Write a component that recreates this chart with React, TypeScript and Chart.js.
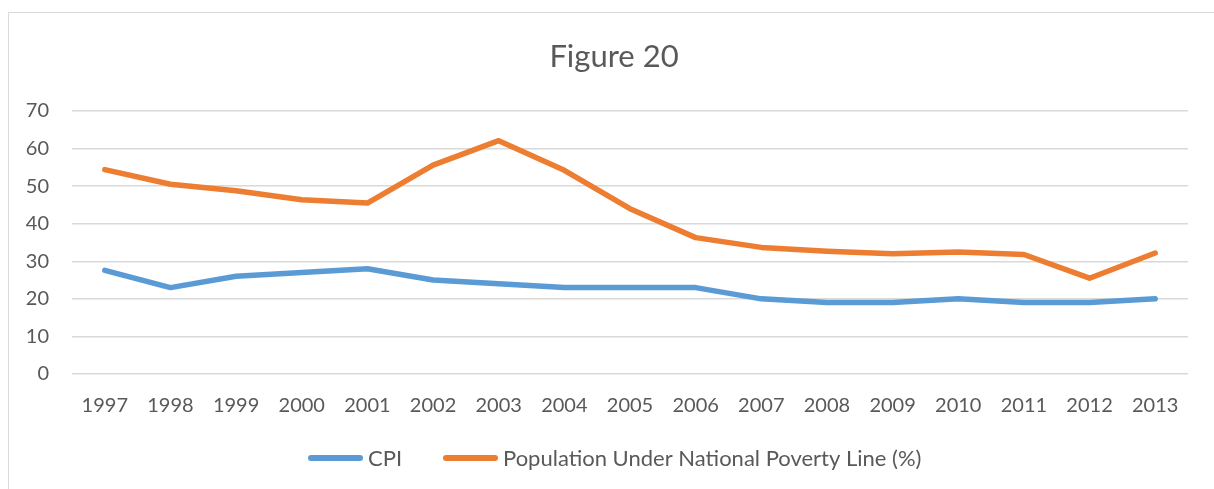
import { useEffect, useRef } from "react";
import { Chart, registerables } from "chart.js";

Chart.register(...registerables);

const years = [
  "1997", "1998", "1999", "2000", "2001", "2002", "2003", "2004", "2005",
  "2006", "2007", "2008", "2009", "2010", "2011", "2012", "2013",
];
const cpi = [27.6, 23, 26, 27, 28, 25, 24, 23, 23, 23, 20, 19, 19, 20, 19, 19, 20];
const poverty = [
  54.4, 50.5, 48.8, 46.4, 45.5, 55.6, 62.1, 54.2, 44.0, 36.3, 33.7, 32.7,
  32.0, 32.5, 31.8, 25.5, 32.2,
];
const yMin = 0;
const yMax = 70;
const yStep = 10;

const titleText = "Figure 20";
const cpiLabel = "CPI";
const povertyLabel = "Population Under National Poverty Line (%)";

const BLUE = "#5B9BD5";
const ORANGE = "#ED7D31";
const TEXT = "#595959";
const GRID = "#d9d9d9";
const FONT = "Lato, 'Open Sans', sans-serif";

// Frame, title and legend drawn around the plot area.
const decorations = {
  id: "decorations",
  beforeDraw(chart: any) {
    const ctx = chart.ctx as CanvasRenderingContext2D;
    ctx.save();
    ctx.fillStyle = "#ffffff";
    ctx.fillRect(0, 0, chart.width, chart.height);
    ctx.strokeStyle = GRID;
    ctx.lineWidth = 1;
    ctx.beginPath();
    ctx.moveTo(8.5, chart.height);
    ctx.lineTo(8.5, 12.5);
    ctx.lineTo(chart.width, 12.5);
    ctx.stroke();
    ctx.restore();
  },
  afterDraw(chart: any) {
    const ctx = chart.ctx as CanvasRenderingContext2D;
    ctx.save();
    ctx.fillStyle = TEXT;
    ctx.textBaseline = "alphabetic";
    ctx.textAlign = "center";
    ctx.font = `31px ${FONT}`;
    ctx.fillText(titleText, 614, 67);

    ctx.font = `22px ${FONT}`;
    ctx.textAlign = "left";
    const items = [
      { label: cpiLabel, color: BLUE, x: 308 },
      { label: povertyLabel, color: ORANGE, x: 443 },
    ];
    const lineY = 458;
    ctx.lineCap = "round";
    for (const it of items) {
      ctx.strokeStyle = it.color;
      ctx.lineWidth = 6;
      ctx.beginPath();
      ctx.moveTo(it.x + 3, lineY);
      ctx.lineTo(it.x + 52, lineY);
      ctx.stroke();
      ctx.fillStyle = TEXT;
      ctx.fillText(it.label, it.x + 60, 466);
    }
    ctx.restore();
  },
};

export default function App() {
  const ref = useRef<HTMLCanvasElement | null>(null);

  useEffect(() => {
    if (!ref.current) return;
    const chart = new Chart(ref.current, {
      type: "line",
      data: {
        labels: years,
        datasets: [
          {
            label: cpiLabel,
            data: cpi,
            borderColor: BLUE,
            backgroundColor: BLUE,
            borderWidth: 5.5,
            pointRadius: 0,
            borderCapStyle: "round",
            borderJoinStyle: "round",
            tension: 0,
          },
          {
            label: povertyLabel,
            data: poverty,
            borderColor: ORANGE,
            backgroundColor: ORANGE,
            borderWidth: 5.5,
            pointRadius: 0,
            borderCapStyle: "round",
            borderJoinStyle: "round",
            tension: 0,
          },
        ],
      },
      options: {
        responsive: false,
        animation: false,
        devicePixelRatio: 1,
        layout: { padding: { left: 14, right: 26, top: 111, bottom: 55 } },
        plugins: {
          legend: { display: false },
          title: { display: false },
          tooltip: { enabled: false },
        },
        scales: {
          x: {
            offset: true,
            grid: { display: false, drawTicks: false },
            border: { display: false },
            ticks: {
              color: TEXT,
              font: { family: FONT, size: 20 },
              padding: 20,
              maxRotation: 0,
              autoSkip: false,
            },
            afterFit(scale: any) {
              scale.height = 60;
            },
          },
          y: {
            min: yMin,
            max: yMax,
            grid: { color: GRID, lineWidth: 1.5, drawTicks: false },
            border: { display: false },
            ticks: {
              stepSize: yStep,
              color: TEXT,
              font: { family: FONT, size: 20 },
              padding: 23,
            },
            afterFit(scale: any) {
              scale.width = 58;
            },
          },
        },
      },
      plugins: [decorations],
    });
    return () => chart.destroy();
  }, []);

  return (
    <div style={{ position: "absolute", left: 0, top: 0, width: 1214, height: 489 }}>
      <canvas ref={ref} width={1214} height={489} style={{ display: "block" }} />
    </div>
  );
}
